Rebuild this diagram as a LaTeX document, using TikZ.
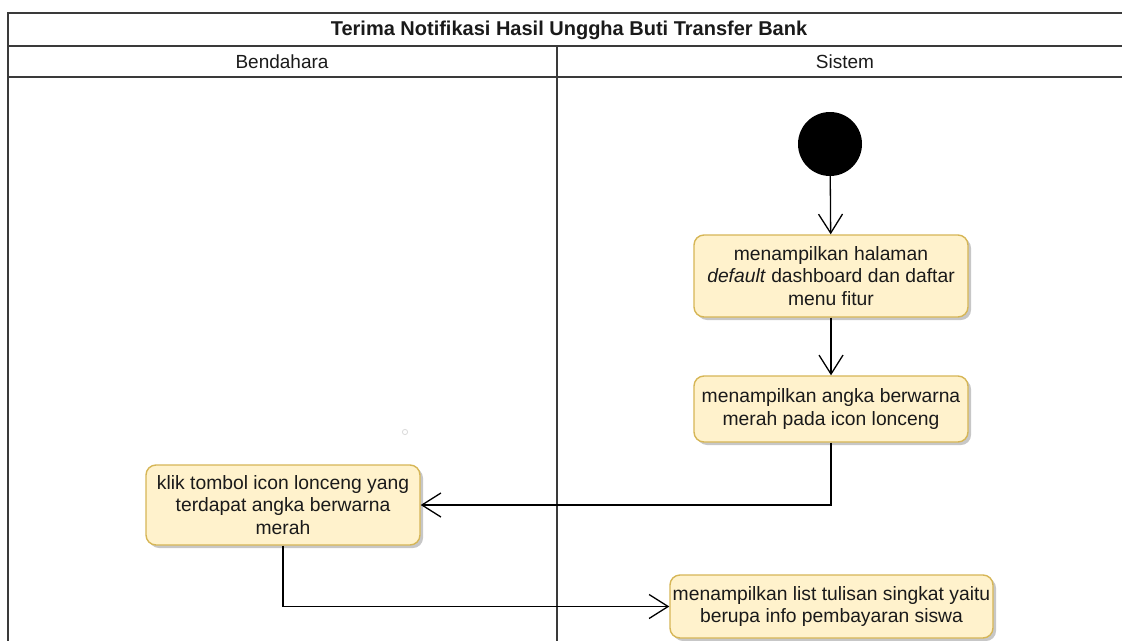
\documentclass[tikz,border=0pt]{standalone}
\usepackage{fontspec}
\setmainfont{Liberation Sans}
\usetikzlibrary{arrows.meta,shadows}
\definecolor{actfill}{HTML}{FFF2CC}
\definecolor{actdraw}{HTML}{D6B656}
\definecolor{lanecol}{HTML}{3A3A3A}
\definecolor{txt}{HTML}{1A1A1A}
\tikzset{
  lane/.style={draw=lanecol,line width=1.6pt},
  action/.style={draw=actdraw,fill=actfill,line width=1.4pt,rounded corners=10pt,
    align=center,text=txt,font=\fontsize{19.3}{22.5}\selectfont,inner sep=0pt,
    drop shadow={shadow xshift=3pt,shadow yshift=-3pt,fill=black,opacity=0.22}},
  flow/.style={draw=black,line width=1.3pt,-{Straight Barb[length=19pt,width=24pt]}},
  startnode/.style={circle,fill=black,minimum size=64pt,inner sep=0pt},
  hdr/.style={font=\fontsize{19}{22}\selectfont,text=txt},
  titletext/.style={font=\bfseries\fontsize{20}{23}\selectfont,text=txt},
}
\begin{document}
\begin{tikzpicture}[x=1pt,y=-1pt]
\useasboundingbox (0,0) rectangle (1122,640);
% swimlane frame
\draw[lane] (8,700) -- (8,13) -- (1135,13);
\draw[lane] (8,46) -- (1135,46);
\draw[lane] (8,77) -- (1135,77);
\draw[lane] (557,46) -- (557,700);
\node[titletext] (title) at (569,30) {Terima Notifikasi Hasil Unggha Buti Transfer Bank};
\node[hdr] (lbend) at (282,62) {Bendahara};
\node[hdr] (lsis) at (845,62) {Sistem};
% faint artifact
\draw[black!15,line width=0.8pt] (405,432) circle (2.6pt);
% nodes
\node[startnode] (start) at (830,144) {};
\node[action,minimum width=274pt,minimum height=82pt] (a1) at (831,276)
  {menampilkan halaman\\\textit{default} dashboard dan daftar\\menu fitur};
\node[action,minimum width=274pt,minimum height=66pt] (a2) at (831,409)
  {menampilkan angka berwarna\\merah pada icon lonceng};
\node[action,minimum width=274pt,minimum height=80pt] (a3) at (283,505)
  {klik tombol icon lonceng yang\\terdapat angka berwarna\\merah};
\node[action,minimum width=323pt,minimum height=63pt] (a4) at (831.5,606.5)
  {menampilkan list tulisan singkat yaitu\\berupa info pembayaran siswa};
% connectors
\draw[flow] (start) -- (a1);
\draw[flow] (a1) -- (a2);
\draw[flow] (a2.south) |- (a3.east);
\draw[flow] (a3.south) |- (a4.west);
\end{tikzpicture}
\end{document}
